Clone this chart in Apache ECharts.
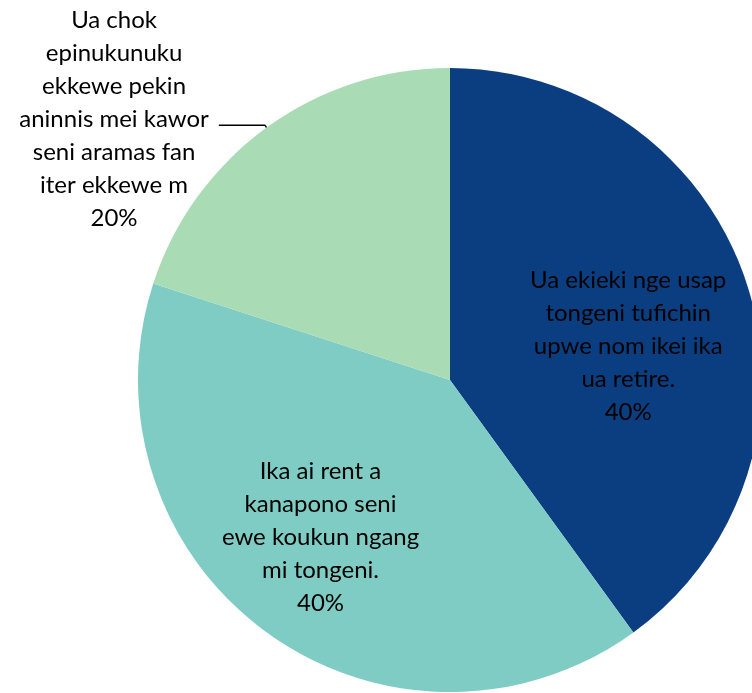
<!DOCTYPE html>
<html>
<head>
<meta charset="utf-8">
<script src="https://cdn.jsdelivr.net/npm/echarts@6/dist/echarts.min.js"></script>
<style>
html,body{margin:0;padding:0;background:#fff;}
#c{width:752px;height:693px;}
</style>
</head>
<body>
<div id="c"></div>
<script>
const categories = [
  'Ua ekieki nge usap\ntongeni tufichin\nupwe nom ikei ika\nua retire.',
  'Ika ai rent a\nkanapono seni\newe koukun ngang\nmi tongeni.',
  'Ua chok\nepinukunuku\nekkewe pekin\naninnis mei kawor\nseni aramas fan\niter ekkewe m'
];
const values = [40, 40, 20];
const colors = ['#0A3E80', '#7ECCC4', '#A9DBB5'];

const FONT = 'Lato';
const FS = 24;
const chart = echarts.init(document.getElementById('c'), null, {renderer: 'canvas'});

function richFormatter(spacerTop, spacerBottom) {
  return function (p) {
    const lines = p.name.split('\n').map(function (s) { return '{t|' + s + '}'; });
    lines.push('{t|' + Math.round(p.percent) + '%}');
    if (spacerTop) lines.unshift('{' + spacerTop + '|}');
    if (spacerBottom) lines.push('{' + spacerBottom + '|}');
    return lines.join('\n');
  };
}
const rich = {
  t: {align: 'center', fontSize: FS, lineHeight: 33, fontFamily: FONT, color: '#000'},
  s1: {fontSize: 1, lineHeight: 30},
  s2: {fontSize: 1, lineHeight: 58},
  s3: {fontSize: 1, lineHeight: 11}
};

const labelInsideA = {position: 'inside', padding: [0, 0, 0, 54], formatter: richFormatter('s1', null), rich: rich};
const labelInsideB = {position: 'inside', padding: [0, 72, 0, 0], formatter: richFormatter('s2', null), rich: rich};
const labelOutside = {position: 'outside', distanceToLabelLine: 10, formatter: richFormatter(null, 's3'), rich: rich};
const perLabel = [labelInsideA, labelInsideB, labelOutside];

const data = categories.map(function (n, i) {
  const item = {name: n, value: values[i], itemStyle: {color: colors[i]}, label: perLabel[i]};
  if (i === 2) {
    item.labelLine = {show: true, length: 3, length2: 46, smooth: false, lineStyle: {color: '#000', width: 1.5}};
  }
  return item;
});

chart.setOption({
  animation: false,
  backgroundColor: '#fff',
  series: [{
    type: 'pie',
    center: [450, 380],
    radius: 312,
    startAngle: 90,
    clockwise: true,
    avoidLabelOverlap: false,
    itemStyle: {borderWidth: 0},
    label: {show: true, fontSize: FS, fontFamily: FONT, color: '#000'},
    labelLine: {show: false},
    emphasis: {disabled: true},
    data: data
  }]
});
</script>
</body>
</html>
